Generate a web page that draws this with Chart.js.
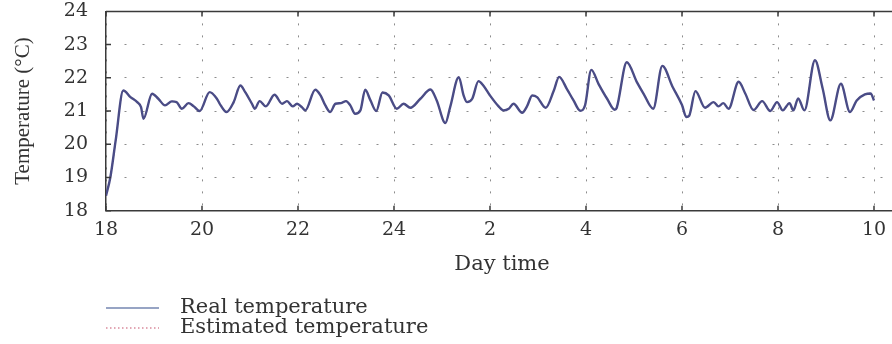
<!DOCTYPE html>
<html>
<head>
<meta charset="utf-8">
<script src="https://cdn.jsdelivr.net/npm/chart.js@4.4.1/dist/chart.umd.min.js"></script>
<style>
  html, body { margin: 0; padding: 0; overflow: hidden; background: #fff; }
  #wrap { position: absolute; left: 0; top: 0; width: 900px; height: 344px; }
</style>
</head>
<body>
<div id="wrap"><canvas id="tempChart"></canvas></div>
<script>
// hours elapsed since 18:00
const hours = [
    0, 0.09, 0.2, 0.36, 0.51, 0.65, 0.73, 0.78, 0.96, 1.09,
    1.23, 1.37, 1.47, 1.58, 1.72, 1.83, 1.95, 2.16, 2.31, 2.39,
    2.51, 2.66, 2.8, 2.9, 3.04, 3.1, 3.2, 3.33, 3.51, 3.67,
    3.77, 3.89, 3.98, 4.08, 4.15, 4.36, 4.47, 4.57, 4.67, 4.78,
    4.9, 5.0, 5.09, 5.19, 5.3, 5.4, 5.51, 5.63, 5.76, 5.89,
    6.06, 6.2, 6.34, 6.55, 6.76, 6.89, 7.07, 7.17, 7.35, 7.45,
    7.52, 7.63, 7.76, 7.86, 8.0, 8.18, 8.28, 8.39, 8.49, 8.67,
    8.77, 8.88, 8.98, 9.16, 9.33, 9.44, 9.6, 9.74, 9.88, 9.98,
    10.11, 10.26, 10.44, 10.6, 10.64, 10.85, 11.06, 11.2, 11.4, 11.59,
    11.8, 12.0, 12.09, 12.15, 12.28, 12.48, 12.66, 12.76, 12.86, 12.97,
    13.18, 13.32, 13.49, 13.67, 13.84, 13.98, 14.1, 14.24, 14.32, 14.42,
    14.55, 14.77, 14.93, 15.09, 15.31, 15.5, 15.64, 15.81, 15.93, 16.0
];
const realTemp = [
    18.45, 19.0, 20.1, 21.62, 21.42, 21.27, 21.12, 20.77, 21.52, 21.37,
    21.17, 21.29, 21.27, 21.07, 21.24, 21.14, 21.0, 21.57, 21.37, 21.17,
    20.97, 21.27, 21.77, 21.57, 21.22, 21.07, 21.3, 21.14, 21.49, 21.22,
    21.3, 21.14, 21.22, 21.12, 21.02, 21.64, 21.47, 21.17, 20.97, 21.22,
    21.24, 21.3, 21.17, 20.92, 21.02, 21.64, 21.32, 21.0, 21.56, 21.47,
    21.07, 21.22, 21.1, 21.37, 21.65, 21.32, 20.64, 21.12, 22.02, 21.47,
    21.27, 21.37, 21.9, 21.77, 21.47, 21.14, 21.02, 21.07, 21.22, 20.95,
    21.14, 21.47, 21.42, 21.1, 21.62, 22.03, 21.67, 21.32, 21.01, 21.17,
    22.24, 21.82, 21.37, 21.04, 21.1, 22.47, 21.87, 21.52, 21.07, 22.36,
    21.74, 21.18, 20.82, 20.86, 21.6, 21.1, 21.27, 21.14, 21.24, 21.07,
    21.88, 21.52, 21.03, 21.3, 21.0, 21.27, 21.02, 21.24, 21.02, 21.38,
    21.02, 22.53, 21.68, 20.72, 21.82, 20.97, 21.32, 21.5, 21.53, 21.32
];
const estimatedTemp = [
    18.45, 19.0, 20.1, 21.62, 21.42, 21.27, 21.12, 20.77, 21.52, 21.37,
    21.17, 21.29, 21.27, 21.07, 21.24, 21.14, 21.0, 21.57, 21.37, 21.17,
    20.97, 21.27, 21.77, 21.57, 21.22, 21.07, 21.3, 21.14, 21.49, 21.22,
    21.3, 21.14, 21.22, 21.12, 21.02, 21.64, 21.47, 21.17, 20.97, 21.22,
    21.24, 21.3, 21.17, 20.92, 21.02, 21.64, 21.32, 21.0, 21.56, 21.47,
    21.07, 21.22, 21.1, 21.37, 21.65, 21.32, 20.64, 21.12, 22.02, 21.47,
    21.27, 21.37, 21.9, 21.77, 21.47, 21.14, 21.02, 21.07, 21.22, 20.95,
    21.14, 21.47, 21.42, 21.1, 21.62, 22.03, 21.67, 21.32, 21.01, 21.17,
    22.24, 21.82, 21.37, 21.04, 21.1, 22.47, 21.87, 21.52, 21.07, 22.36,
    21.74, 21.18, 20.82, 20.86, 21.6, 21.1, 21.27, 21.14, 21.24, 21.07,
    21.88, 21.52, 21.03, 21.3, 21.0, 21.27, 21.02, 21.24, 21.02, 21.38,
    21.02, 22.53, 21.68, 20.72, 21.82, 20.97, 21.32, 21.5, 21.53, 21.32
];
const xTickLabels = ["18", "20", "22", "24", "2", "4", "6", "8", "10"];
const seriesNames = ["Real temperature", "Estimated temperature"];

const tickFont = { family: "'DejaVu Serif', serif", size: 19 };
const frameColor = "#3a3a3a";

// top border, inward tick marks and the legend underneath (matlab style)
const framePlugin = {
    id: "frame",
    afterDraw(chart) {
        const { ctx, chartArea, scales } = chart;
        ctx.save();
        ctx.strokeStyle = frameColor;
        ctx.lineWidth = 1.5;
        ctx.beginPath();
        ctx.moveTo(chartArea.left, chartArea.top);
        ctx.lineTo(chartArea.right, chartArea.top);
        scales.x.ticks.forEach(t => {
            const px = scales.x.getPixelForValue(t.value);
            ctx.moveTo(px, chartArea.bottom);
            ctx.lineTo(px, chartArea.bottom - 5);
            ctx.moveTo(px, chartArea.top);
            ctx.lineTo(px, chartArea.top + 5);
        });
        scales.y.ticks.forEach(t => {
            const py = scales.y.getPixelForValue(t.value);
            ctx.moveTo(chartArea.left, py);
            ctx.lineTo(chartArea.left + 5, py);
        });
        ctx.stroke();

        ctx.font = "21px 'DejaVu Serif', serif";
        ctx.textBaseline = "middle";
        ctx.fillStyle = "#333";
        chart.data.datasets.forEach((ds, i) => {
            const y = 308 + i * 20;
            ctx.beginPath();
            ctx.strokeStyle = ds.legendColor;
            ctx.lineWidth = 1.4;
            ctx.setLineDash(ds.borderDash || []);
            ctx.moveTo(chartArea.left, y);
            ctx.lineTo(chartArea.left + 53, y);
            ctx.stroke();
            ctx.setLineDash([]);
            ctx.fillText(ds.label, chartArea.left + 74, y);
        });
        ctx.restore();
    }
};

document.addEventListener("DOMContentLoaded", () => {
    const ctx = document.getElementById("tempChart").getContext("2d");
    new Chart(ctx, {
        type: "line",
        data: {
            datasets: [
                {
                    label: seriesNames[0],
                    data: hours.map((h, i) => ({ x: h, y: realTemp[i] })),
                    borderColor: "#4a4c86",
                    legendColor: "#7486b0",
                    borderWidth: 2.4,
                    pointRadius: 0,
                    cubicInterpolationMode: "monotone"
                },
                {
                    label: seriesNames[1],
                    data: hours.map((h, i) => ({ x: h, y: estimatedTemp[i] })),
                    borderColor: "#b4486c",
                    legendColor: "#d98a9c",
                    borderWidth: 1.2,
                    borderDash: [1.5, 2.5],
                    pointRadius: 0,
                    cubicInterpolationMode: "monotone"
                }
            ]
        },
        options: {
            responsive: true,
            maintainAspectRatio: false,
            animation: false,
            layout: { padding: { top: 0, right: 2, bottom: 64, left: 0 } },
            plugins: {
                legend: { display: false },
                tooltip: { enabled: false }
            },
            scales: {
                x: {
                    type: "linear",
                    min: 0,
                    max: 16.5,
                    afterFit: (scale) => { scale.height = 69.3; },
                    ticks: {
                        stepSize: 2,
                        includeBounds: false,
                        autoSkip: false,
                        maxRotation: 0,
                        padding: 8,
                        color: "#333",
                        font: tickFont,
                        callback: (value) => xTickLabels[value / 2]
                    },
                    grid: { color: "#8c8c8c", lineWidth: 1, drawTicks: false },
                    border: { display: true, color: frameColor, width: 1.5, dash: [2, 10] },
                    title: {
                        display: true,
                        text: "Day time",
                        color: "#333",
                        font: { family: "'DejaVu Serif', serif", size: 21 },
                        padding: { top: 0, bottom: 2.4 }
                    }
                },
                y: {
                    min: 18,
                    max: 24,
                    afterFit: (scale) => { scale.width = 106; },
                    ticks: {
                        stepSize: 1,
                        padding: 0,
                        color: "#333",
                        font: tickFont
                    },
                    // invisible tick marks keep the labels 18px off the frame
                    grid: { color: "#8c8c8c", lineWidth: 1, drawTicks: true, tickLength: 18, tickWidth: 0 },
                    border: { display: true, color: frameColor, width: 1.5, dash: [2, 16] },
                    title: {
                        display: true,
                        text: "Temperature (°C)",
                        color: "#333",
                        font: { family: "'Liberation Serif', serif", size: 21 },
                        padding: { top: 11, bottom: 0 }
                    }
                }
            }
        },
        plugins: [framePlugin]
    });
});
</script>
</body>
</html>
